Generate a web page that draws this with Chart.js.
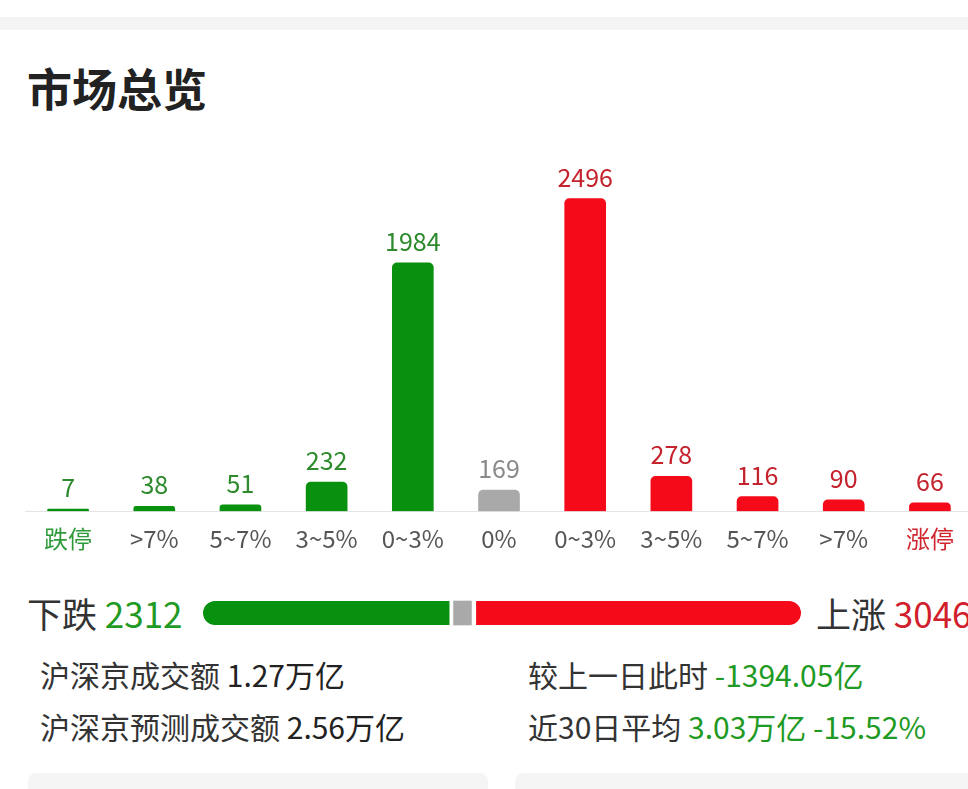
<!DOCTYPE html>
<html>
<head>
<meta charset="utf-8">
<script src="https://cdn.jsdelivr.net/npm/chart.js@4"></script>
<style>
html, body { margin: 0; padding: 0; overflow: hidden; background: #fff; }
body { width: 968px; height: 789px; position: relative; font-family: "Noto Sans CJK SC", sans-serif; color: #333; }
#wrap { position: absolute; left: 0; top: 0; width: 975px; height: 789px; }
.abs { position: absolute; white-space: nowrap; }
.strip { left: 0; top: 17px; width: 975px; height: 13px; background: #f4f4f4; }
.title { left: 27px; top: 60px; font-size: 45px; font-weight: bold; color: #222; line-height: 56px; }
.big { font-size: 35px; line-height: 40px; }
.row { font-size: 30px; line-height: 38px; color: #333; }
.green { color: #1f9a24; }
.red { color: #d1202c; }
.card { background: #f5f5f5; border-radius: 8px 8px 0 0; height: 30px; top: 773px; }
</style>
</head>
<body>
<div id="wrap">
  <div class="abs strip"></div>
  <div class="abs title">市场总览</div>
  <canvas id="dist" class="abs" style="left:0;top:130px" width="975" height="440"></canvas>

  <div class="abs big" style="left:27px;top:593px">下跌 <span class="green" id="downTxt"></span></div>
  <canvas id="ratio" class="abs" style="left:203px;top:599px" width="598" height="28"></canvas>
  <div class="abs big" style="left:816px;top:593px">上涨 <span class="red" id="upTxt"></span></div>

  <div class="abs row" style="left:40px;top:655px">沪深京成交额 <span style="color:#222" id="amtTxt"></span></div>
  <div class="abs row" style="left:40px;top:707px">沪深京预测成交额 <span style="color:#222" id="predTxt"></span></div>
  <div class="abs row" style="left:528px;top:655px">较上一日此时 <span class="green" id="diffTxt"></span></div>
  <div class="abs row" style="left:528px;top:707px">近30日平均 <span class="green" id="avgTxt"></span></div>

  <div class="abs card" style="left:28px;width:460px"></div>
  <div class="abs card" style="left:515px;width:460px"></div>
</div>

<script>
// distribution of price changes
var categories = ["跌停", ">7%", "5~7%", "3~5%", "0~3%", "0%", "0~3%", "3~5%", "5~7%", ">7%", "涨停"];
var counts = [7, 38, 51, 232, 1984, 169, 2496, 278, 116, 90, 66];

// summary numbers
var downCount = 2312;
var flatCount = 169;
var upCount = 3046;
var turnover = "1.27万亿";
var predicted = "2.56万亿";
var vsYesterday = "-1394.05亿";
var avg30 = "3.03万亿 -15.52%";

var GREEN = "#08910f", RED = "#f50a19", GRAY = "#a9a9a9";

function kind(i) {
    if (i < 5) return "down";
    if (i == 5) return "flat";
    return "up";
}
var barColors = categories.map(function (c, i) {
    return kind(i) == "down" ? GREEN : kind(i) == "flat" ? GRAY : RED;
});
var numColors = categories.map(function (c, i) {
    return kind(i) == "down" ? "#2d8a2d" : kind(i) == "flat" ? "#8a8a8a" : "#c4222c";
});
var tickColors = categories.map(function (c, i) {
    if (i == 0) return "#2f9a3a";
    if (i == categories.length - 1) return "#d0262e";
    return "#555";
});

document.getElementById("downTxt").textContent = downCount;
document.getElementById("upTxt").textContent = upCount;
document.getElementById("amtTxt").textContent = turnover;
document.getElementById("predTxt").textContent = predicted;
document.getElementById("diffTxt").textContent = vsYesterday;
document.getElementById("avgTxt").textContent = avg30;

// numbers above the bars
var valueLabels = {
    id: "valueLabels",
    afterDatasetsDraw: function (chart) {
        var ctx = chart.ctx;
        var meta = chart.getDatasetMeta(0);
        ctx.save();
        ctx.font = "25px 'Noto Sans CJK SC', sans-serif";
        ctx.textAlign = "center";
        ctx.textBaseline = "alphabetic";
        meta.data.forEach(function (bar, i) {
            ctx.fillStyle = numColors[i];
            ctx.fillText(counts[i], bar.x, bar.y - 12);
        });
        ctx.restore();
    }
};

new Chart(document.getElementById("dist"), {
    type: "bar",
    data: {
        labels: categories,
        datasets: [{
            data: counts,
            backgroundColor: barColors,
            barThickness: 41,
            minBarLength: 2,
            borderRadius: 5,
            borderSkipped: "start"
        }]
    },
    options: {
        responsive: false,
        animation: false,
        layout: { padding: { left: 25, right: 2, top: 40, bottom: 4 } },
        plugins: { legend: { display: false }, tooltip: { enabled: false } },
        scales: {
            x: {
                grid: { display: false, drawTicks: false },
                border: { display: true, color: "#e4e4e4", width: 1 },
                ticks: {
                    padding: 13,
                    font: { size: 24, family: "'Noto Sans CJK SC', sans-serif" },
                    color: function (c) { return tickColors[c.index]; }
                }
            },
            y: { display: false, min: 0, max: 2725 }
        }
    },
    plugins: [valueLabels]
});

// up / flat / down ratio bar
new Chart(document.getElementById("ratio"), {
    type: "bar",
    data: {
        labels: [""],
        datasets: [
            {
                data: [downCount], backgroundColor: GREEN,
                borderColor: "#fff", borderWidth: { top: 0, bottom: 0, left: 0, right: 4 },
                borderRadius: { topLeft: 12, bottomLeft: 12, topRight: 0, bottomRight: 0 },
                borderSkipped: false
            },
            {
                data: [flatCount], backgroundColor: GRAY,
                borderWidth: 0, borderRadius: 0, borderSkipped: false
            },
            {
                data: [upCount], backgroundColor: RED,
                borderColor: "#fff", borderWidth: { top: 0, bottom: 0, left: 5, right: 0 },
                borderRadius: { topLeft: 0, bottomLeft: 0, topRight: 12, bottomRight: 12 },
                borderSkipped: false
            }
        ]
    },
    options: {
        indexAxis: "y",
        responsive: false,
        animation: false,
        layout: { padding: 0 },
        plugins: { legend: { display: false }, tooltip: { enabled: false } },
        datasets: { bar: { barThickness: 24 } },
        scales: {
            x: { display: false, stacked: true, min: 0, max: downCount + flatCount + upCount },
            y: { display: false, stacked: true }
        }
    }
});
</script>
</body>
</html>
